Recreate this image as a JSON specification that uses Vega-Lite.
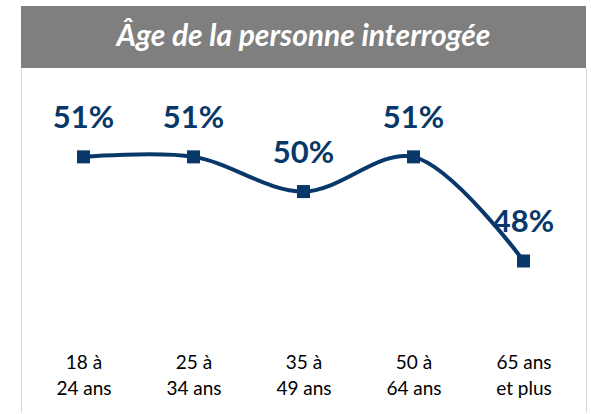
{
  "$schema": "https://vega.github.io/schema/vega-lite/v6.json",
  "background": "white",
  "padding": {"left": 21, "top": 6, "right": 4, "bottom": 0},
  "spacing": 0,
  "config": {"view": {"stroke": null}, "font": "Lato"},
  "vconcat": [
    {
      "width": 565,
      "height": 62,
      "view": {"fill": "#7f7f7f", "stroke": null},
      "data": {"values": [{"title": "Âge de la personne interrogée"}]},
      "mark": {"type": "text", "font": "Lato", "fontSize": 30, "fontWeight": "bold", "fontStyle": "italic", "color": "white", "align": "center", "baseline": "middle", "dy": 0},
      "encoding": {"text": {"field": "title"}}
    },
    {
      "width": 565,
      "height": 345,
      "data": {"values": [
        {"age": "18 à 24 ans", "share": 0.51},
        {"age": "25 à 34 ans", "share": 0.51},
        {"age": "35 à 49 ans", "share": 0.50},
        {"age": "50 à 64 ans", "share": 0.51},
        {"age": "65 ans et plus", "share": 0.48}
      ]},
      "encoding": {
        "x": {"field": "age", "type": "ordinal", "sort": null,
          "scale": {"type": "point", "padding": 0.568},
          "axis": {"orient": "bottom", "title": null, "domain": false, "ticks": false, "grid": false,
            "labelAngle": 0, "labelFont": "Lato", "labelFontSize": 19, "labelColor": "#000000",
            "labelBaseline": "alphabetic", "labelLineHeight": 26, "labelPadding": 0, "offset": -45,
            "labelExpr": "datum.value == '65 ans et plus' ? ['65 ans', 'et plus'] : [slice(datum.value, 0, 4), slice(datum.value, 5)]"}}
      },
      "layer": [
        {
          "mark": {"type": "line", "interpolate": "catmull-rom", "color": "#083769", "strokeWidth": 4},
          "encoding": {"y": {"field": "share", "type": "quantitative",
            "scale": {"domain": [0.4362, 0.5356], "nice": false, "zero": false},
            "axis": {"orient": "left", "title": null, "labels": false, "ticks": false, "grid": false, "domainColor": "#d9d9d9", "domainWidth": 1}}}
        },
        {
          "mark": {"type": "point", "shape": "square", "filled": true, "size": 169, "color": "#083769", "opacity": 1},
          "encoding": {"y": {"field": "share", "type": "quantitative", "axis": null}}
        },
        {
          "mark": {"type": "text", "font": "Lato", "fontSize": 31, "fontWeight": "bold", "color": "#083769", "align": "center", "baseline": "alphabetic", "dy": -28.5},
          "encoding": {
            "text": {"field": "share", "type": "quantitative", "format": ".0%"},
            "y": {"field": "share", "type": "quantitative",
              "axis": {"orient": "right", "title": null, "labels": false, "ticks": false, "grid": false, "domainColor": "#d9d9d9", "domainWidth": 1}}
          }
        }
      ],
      "resolve": {"axis": {"y": "independent"}}
    }
  ]
}
